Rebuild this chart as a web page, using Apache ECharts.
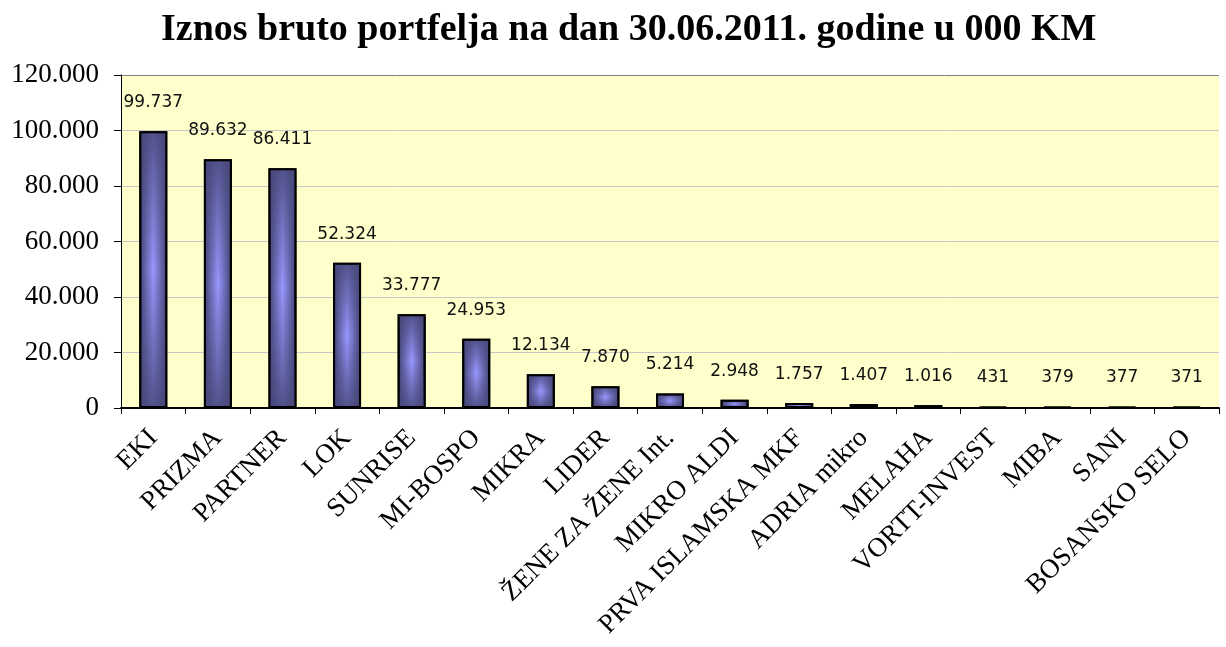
<!DOCTYPE html>
<html>
<head>
<meta charset="utf-8">
<script src="https://cdn.jsdelivr.net/npm/echarts@6/dist/echarts.min.js"></script>
<style>
  html, body { margin: 0; padding: 0; background: #fff; }
  #chart { width: 1226px; height: 647px; }
</style>
</head>
<body>
<div id="chart"></div>
<script>
var categories = ['EKI', 'PRIZMA', 'PARTNER', 'LOK', 'SUNRISE', 'MI-BOSPO', 'MIKRA', 'LIDER',
  'ŽENE ZA ŽENE Int.', 'MIKRO ALDI', 'PRVA ISLAMSKA MKF', 'ADRIA mikro', 'MELAHA',
  'VORTT-INVEST', 'MIBA', 'SANI', 'BOSANSKO SELO'];
var portfolio = [99737, 89632, 86411, 52324, 33777, 24953, 12134, 7870,
  5214, 2948, 1757, 1407, 1016, 431, 379, 377, 371];
var yTicks = [0, 20000, 40000, 60000, 80000, 100000, 120000];

function fmt(v) {
  // 99737 -> 99.737
  return String(v).replace(/\B(?=(\d{3})+(?!\d))/g, '.');
}

var option = {
  backgroundColor: '#ffffff',
  animation: false,
  title: {
    text: 'Iznos bruto portfelja na dan 30.06.2011. godine u 000 KM',
    left: 156,
    top: 6,
    textStyle: {
      fontFamily: 'Liberation Serif',
      fontWeight: 'bold',
      fontSize: 38,
      color: '#000'
    }
  },
  grid: {
    left: 121,
    right: 7,
    top: 75,
    bottom: 239,
    show: true,
    backgroundColor: '#FFFFCC',
    borderWidth: 0
  },
  xAxis: {
    type: 'category',
    data: categories,
    axisLine: { lineStyle: { color: '#000', width: 2 } },
    axisTick: { show: true, length: 6, lineStyle: { color: '#000', width: 1 } },
    axisLabel: {
      rotate: 45,
      interval: 0,
      margin: 26,
      fontFamily: 'Liberation Serif',
      fontSize: 27,
      color: '#000'
    }
  },
  yAxis: {
    type: 'value',
    min: yTicks[0],
    max: yTicks[yTicks.length - 1],
    interval: 20000,
    axisLine: { show: true, lineStyle: { color: '#000', width: 1 } },
    axisTick: { show: true, length: 7, lineStyle: { color: '#000' } },
    axisLabel: {
      margin: 22,
      fontFamily: 'Liberation Serif',
      fontSize: 27,
      color: '#000',
      formatter: fmt
    },
    splitLine: {
      show: true,
      lineStyle: {
        color: ['#c8c8c8', '#c8c8c8', '#c8c8c8', '#c8c8c8', '#c8c8c8', '#c8c8c8', '#808080'],
        width: 1
      }
    }
  },
  series: [{
    type: 'bar',
    data: portfolio,
    barWidth: 28,
    itemStyle: {
      borderColor: '#000',
      borderWidth: 2,
      color: new echarts.graphic.LinearGradient(0, 0, 1, 0, [
        { offset: 0, color: '#40406e' },
        { offset: 0.5, color: '#9898ff' },
        { offset: 1, color: '#40406e' }
      ])
    },
    label: {
      show: true,
      position: 'top',
      distance: 20,
      fontFamily: 'DejaVu Sans',
      fontSize: 17,
      color: '#111',
      formatter: function (p) { return fmt(p.value); }
    }
  }, {
    // shading toward the top and bottom of each bar
    type: 'bar',
    data: portfolio,
    barWidth: 28,
    barGap: '-100%',
    silent: true,
    itemStyle: {
      borderColor: '#000',
      borderWidth: 2,
      color: new echarts.graphic.LinearGradient(0, 0, 0, 1, [
        { offset: 0, color: 'rgba(70,70,120,0.85)' },
        { offset: 0.5, color: 'rgba(70,70,120,0)' },
        { offset: 1, color: 'rgba(70,70,120,0.85)' }
      ])
    }
  }]
};

var chart = echarts.init(document.getElementById('chart'));
chart.setOption(option);
</script>
</body>
</html>
